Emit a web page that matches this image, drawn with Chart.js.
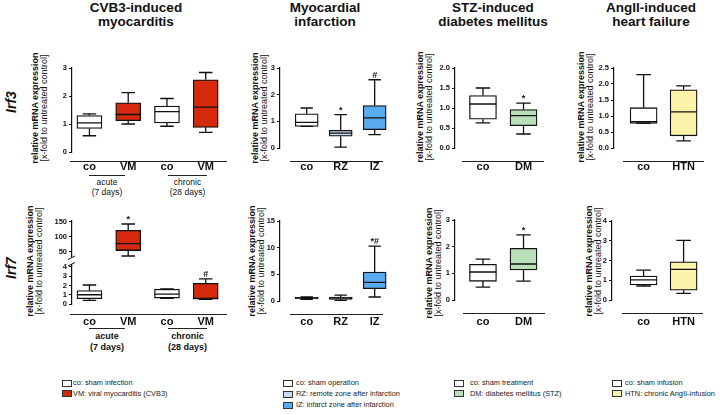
<!DOCTYPE html>
<html><head><meta charset="utf-8">
<script src="https://cdn.jsdelivr.net/npm/chart.js@4.4.1/dist/chart.umd.min.js"></script>
<style>
html,body{margin:0;padding:0;background:#fff;}
body{width:720px;height:415px;position:relative;overflow:hidden;font-family:"Liberation Sans",Arial,sans-serif;color:#111;}
.title{position:absolute;top:1px;font-weight:bold;font-size:13.5px;line-height:14px;text-align:center;white-space:nowrap;transform:translateX(-50%);}
.ylab{position:absolute;font-size:9px;line-height:8.5px;white-space:nowrap;text-align:center;transform:translate(-50%,-50%) rotate(-90deg);}
.ylab b{display:block;font-weight:bold;}
.ylab span{display:block;}
.gene{position:absolute;font-size:14px;font-weight:bold;font-style:italic;white-space:nowrap;transform:translate(-50%,-50%) rotate(-90deg);}
.grp{position:absolute;text-align:center;white-space:nowrap;transform:translateX(-50%);}
.gline{position:absolute;height:0;border-top:1px solid #222;}
.sw{position:absolute;width:8px;height:5px;border:1px solid #333;}
.lt{position:absolute;font-size:7.4px;line-height:10px;white-space:nowrap;color:#222;}
canvas{position:absolute;}
</style></head>
<body>
<div class="title" style="left:136px">CVB3-induced<br>myocarditis</div>
<div class="title" style="left:325px">Myocardial<br>infarction</div>
<div class="title" style="left:493px">STZ-induced<br>diabetes mellitus</div>
<div class="title" style="left:651px">AngII-induced<br>heart failure</div>

<div class="gene" style="left:11px;top:102px">Irf3</div>
<div class="gene" style="left:11px;top:268px">Irf7</div>

<div class="ylab" style="left:39px;top:108px"><b>relative mRNA expression</b><span>[x-fold to untreated control]</span></div>
<div class="ylab" style="left:259px;top:108px"><b>relative mRNA expression</b><span>[x-fold to untreated control]</span></div>
<div class="ylab" style="left:424px;top:107px"><b>relative mRNA expression</b><span>[x-fold to untreated control]</span></div>
<div class="ylab" style="left:585px;top:107px"><b>relative mRNA expression</b><span>[x-fold to untreated control]</span></div>
<div class="ylab" style="left:33.5px;top:261px"><b>relative mRNA expression</b><span>[x-fold to untreated control]</span></div>
<div class="ylab" style="left:255.5px;top:261px"><b>relative mRNA expression</b><span>[x-fold to untreated control]</span></div>
<div class="ylab" style="left:433px;top:263px"><b>relative mRNA expression</b><span>[x-fold to untreated control]</span></div>
<div class="ylab" style="left:593px;top:261px"><b>relative mRNA expression</b><span>[x-fold to untreated control]</span></div>

<div class="gline" style="left:89px;width:36px;top:175px"></div>
<div class="gline" style="left:168px;width:39px;top:175px"></div>
<div class="grp" style="left:107px;top:177px;font-size:8.5px;line-height:10px">acute<br>(7 days)</div>
<div class="grp" style="left:187.5px;top:177px;font-size:8.5px;line-height:10px">chronic<br>(28 days)</div>

<div class="gline" style="left:89px;width:36px;top:328px"></div>
<div class="gline" style="left:168px;width:39px;top:328px"></div>
<div class="grp" style="left:107px;top:331px;font-size:9px;line-height:10.5px;font-weight:bold">acute<br>(7 days)</div>
<div class="grp" style="left:187.5px;top:331px;font-size:9px;line-height:10.5px;font-weight:bold">chronic<br>(28 days)</div>

<script>
// ---------- data ----------
const cvbGroups = ['co', 'VM', 'co', 'VM'];
const miGroups = ['co', 'RZ', 'IZ'];
const stzGroups = ['co', 'DM'];
const angGroups = ['co', 'HTN'];

// five-number summaries per group: [min, Q1, median, Q3, max]
const irf3CVB3 = [[0.58, 0.84, 1.04, 1.30, 1.36], [1.00, 1.12, 1.34, 1.76, 2.12], [0.92, 1.04, 1.44, 1.64, 1.91], [0.70, 0.88, 1.60, 2.58, 2.84]];
const irf3MI = [[0.81, 0.81, 0.96, 1.28, 1.50], [0.03, 0.44, 0.56, 0.66, 1.25], [0.50, 0.69, 1.13, 1.59, 2.56]];
const irf3STZ = [[0.63, 0.72, 1.10, 1.31, 1.50], [0.35, 0.56, 0.81, 0.96, 1.12]];
const irf3ANG = [[0.77, 0.77, 0.82, 1.26, 2.29], [0.22, 0.38, 1.13, 1.82, 1.94]];
const irf7CVB3 = [[0.39, 0.57, 1.00, 1.45, 2.05], [36, 54, 77, 121, 142], [0.60, 0.64, 1.06, 1.60, 1.63], [0.50, 0.53, 0.60, 2.23, 2.72]];
const irf7MI = [[0.31, 0.38, 0.56, 0.69, 0.75], [0.12, 0.31, 0.56, 0.75, 1.12], [0.75, 2.31, 3.50, 5.44, 10.3]];
const irf7STZ = [[0.48, 0.70, 1.05, 1.34, 1.53], [0.71, 1.13, 1.35, 1.94, 2.44]];
const irf7ANG = [[0.71, 0.76, 1.02, 1.21, 1.51], [0.34, 0.50, 1.55, 1.93, 3.02]];
// which part of the broken axis each Irf7 CVB3 group uses
const irf7CVB3Axis = ['low', 'up', 'low', 'low'];

// significance marks
const irf3CVB3Sig = ['', '', '', ''];
const irf3MISig = ['', '*', '#'];
const irf3STZSig = ['', '*'];
const irf3ANGSig = ['', ''];
const irf7CVB3Sig = ['', '*', '', '#'];
const irf7MISig = ['', '', '*#'];
const irf7STZSig = ['', '*'];
const irf7ANGSig = ['', ''];

// tick labels
const ticks0to3 = [0, 1, 2, 3];
const irf3STZTicks = [0, 0.5, 1, 1.5, 2];
const irf3ANGTicks = [0, 0.5, 1, 1.5, 2, 2.5];
const irf7CVB3LowTicks = [0, 1, 2, 3, 4];
const irf7CVB3UpTicks = [50, 100, 150];
const irf7MITicks = [0, 5, 10, 15];
const irf7STZTicks = [0, 1, 2, 3];
const irf7ANGTicks = [0, 1, 2, 3, 4];

// legends
const legendCVB3 = ['co: sham infection', 'VM: viral myocarditis (CVB3)'];
const legendMI = ['co: sham operation', 'RZ: remote zone after infarction', 'IZ: infarct zone after infarction'];
const legendSTZ = ['co: sham treatment', 'DM: diabetes mellitus (STZ)'];
const legendANG = ['co: sham infusion', 'HTN: chronic AngII-infusion'];

// ---------- style ----------
const WHITE = '#ffffff', RED = '#d4290d', LBLUE = '#c9d8ea', BLUE = '#5aaaf0', GREEN = '#b8dfb8', YELLOW = '#fbf4a8';
const cvbColors = [WHITE, RED, WHITE, RED];
const miColors = [WHITE, LBLUE, BLUE];
const stzColors = [WHITE, GREEN];
const angColors = [WHITE, YELLOW];
const FONT = "'Liberation Sans', Arial, sans-serif";

// legends (HTML)
function legend(items, colors, sx, tx, y0, dy) {
  items.forEach((t, i) => {
    const cy = y0 + i * dy;
    const s = document.createElement('div');
    s.className = 'sw'; s.style.left = sx + 'px'; s.style.top = (cy - 3.5) + 'px'; s.style.background = colors[i];
    document.body.appendChild(s);
    const d = document.createElement('div');
    d.className = 'lt'; d.style.left = tx + 'px'; d.style.top = (cy - 5) + 'px'; d.textContent = t;
    document.body.appendChild(d);
  });
}
legend(legendCVB3, [WHITE, RED], 62, 73, 383, 10.5);
legend(legendMI, miColors, 283, 296, 383, 11);
legend(legendSTZ, stzColors, 454, 470, 383, 10.8);
legend(legendANG, angColors, 612, 625, 383, 10.8);

// ---------- box plot plugin ----------
const boxPlugin = {
  id: 'boxWhisker',
  afterDatasetsDraw(chart, args, o) {
    const ctx = chart.ctx, ca = chart.chartArea;
    ctx.save();
    chart.data.datasets.forEach((ds, di) => {
      const meta = chart.getDatasetMeta(di);
      const ys = chart.scales[meta.yAxisID];
      meta.data.forEach((el, j) => {
        if (ds.data[j].y == null) return;
        const s = ds.stats[j];
        const x = el.x, w = el.width, c = w * 0.27;
        const p = s.map(v => ys.getPixelForValue(v));
        ctx.strokeStyle = '#111'; ctx.lineWidth = 1.3;
        ctx.beginPath();
        ctx.moveTo(x, p[3]); ctx.lineTo(x, p[4]);
        ctx.moveTo(x - c, p[4]); ctx.lineTo(x + c, p[4]);
        ctx.moveTo(x, p[1]); ctx.lineTo(x, p[0]);
        ctx.moveTo(x - c, p[0]); ctx.lineTo(x + c, p[0]);
        ctx.moveTo(x - w / 2, p[2]); ctx.lineTo(x + w / 2, p[2]);
        ctx.stroke();
        if (ds.sig && ds.sig[j]) {
          ctx.fillStyle = '#111';
          ctx.font = 'bold 9px ' + FONT;
          ctx.textAlign = 'center'; ctx.textBaseline = 'alphabetic';
          ctx.fillText(ds.sig[j], x, p[4] - 2);
        }
      });
    });
    // detached x axis line
    const yy = Math.round(ca.bottom + o.gap) + 0.5;
    ctx.lineWidth = 1; ctx.strokeStyle = '#222';
    ctx.beginPath(); ctx.moveTo(ca.left + o.from, yy); ctx.lineTo(ca.right + o.to, yy); ctx.stroke();
    // axis break
    if (o.brk) {
      const b = chart.scales.yUp.bottom;
      ctx.fillStyle = '#fff';
      ctx.fillRect(ca.left - 2, b - 1.5, 4, 6.5);
      ctx.strokeStyle = '#111'; ctx.lineWidth = 1;
      ctx.beginPath();
      ctx.moveTo(ca.left - 4, b + 0.5); ctx.lineTo(ca.left + 3, b - 3);
      ctx.moveTo(ca.left - 4, b + 7); ctx.lineTo(ca.left + 3, b + 3.5);
      ctx.stroke();
    }
    ctx.restore();
  }
};

function yAxis(min, max, ticks, dec, extra) {
  return Object.assign({
    type: 'linear', position: 'left', min: min, max: max, bounds: 'data', offset: false,
    afterBuildTicks: s => { s.ticks = ticks.map(v => ({ value: v })); },
    afterFit: s => { s.width = 30; },
    ticks: { font: { family: FONT, size: 7.5, weight: 'bold' }, color: '#111', padding: 2, autoSkip: false,
      callback: v => dec ? Number(v).toFixed(1) : String(v) },
    grid: { display: true, drawOnChartArea: false, drawTicks: true, tickLength: 3, color: '#111', lineWidth: 1, offset: false },
    border: { display: true, color: '#111', width: 1.2 }
  }, extra || {});
}

function panel(cfg) {
  const YW = 30, PT = 16, XH = 30, PR = 10;
  const W = YW + cfg.R - cfg.L + PR, H = PT + cfg.B - cfg.T + XH;
  const cv = document.createElement('canvas');
  cv.width = W; cv.height = H;
  cv.style.left = (cfg.L - YW) + 'px'; cv.style.top = (cfg.T - PT) + 'px';
  cv.style.width = W + 'px'; cv.style.height = H + 'px';
  document.body.appendChild(cv);
  const scales = {
    x: {
      type: 'linear', min: cfg.xMin, max: cfg.xMax, bounds: 'data', offset: false,
      afterBuildTicks: s => { s.ticks = cfg.cats.map((c, i) => ({ value: i })); },
      afterFit: s => { s.height = XH; },
      ticks: { callback: v => cfg.cats[v], font: { family: FONT, size: 11, weight: 'bold' }, color: '#111',
        padding: cfg.lp, autoSkip: false, maxRotation: 0 },
      grid: { display: false, drawTicks: false, offset: false }, border: { display: false }
    }
  };
  Object.assign(scales, cfg.y);
  const datasets = cfg.sets.map(st => ({
    type: 'bar',
    yAxisID: st.axis,
    data: cfg.stats.map((s, i) => ({ x: i, y: st.use[i] ? [s[1], s[3]] : null })),
    stats: cfg.stats, sig: cfg.sig,
    backgroundColor: cfg.colors, borderColor: '#111', borderWidth: 1.3, borderSkipped: false,
    barThickness: cfg.bw, skipNull: true
  }));
  new Chart(cv, {
    type: 'bar',
    data: { datasets },
    options: {
      responsive: false, animation: false, devicePixelRatio: 1,
      layout: { padding: { top: PT, right: PR, left: 0, bottom: 0 } },
      plugins: { legend: { display: false }, tooltip: { enabled: false },
        boxWhisker: { gap: cfg.gap, from: cfg.from, to: cfg.to, brk: !!cfg.brk } },
      scales
    },
    plugins: [boxPlugin]
  });
}

const all = a => a.map(() => true);

// ---------- Irf3 row ----------
panel({ L: 72, R: 222, T: 68, B: 152, xMin: -0.45, xMax: 3.42, cats: cvbGroups, stats: irf3CVB3, sig: irf3CVB3Sig,
  colors: cvbColors, bw: 25, gap: 9, from: -2, to: 5, lp: 8.4,
  sets: [{ axis: 'y', use: all(irf3CVB3) }], y: { y: yAxis(0, 3, ticks0to3, false) } });
panel({ L: 280, R: 392, T: 68, B: 148, xMin: -0.785, xMax: 2.51, cats: miGroups, stats: irf3MI, sig: irf3MISig,
  colors: miColors, bw: 23, gap: 13, from: 10, to: -9, lp: 12.4,
  sets: [{ axis: 'y', use: all(irf3MI) }], y: { y: yAxis(0, 3, ticks0to3, false) } });
panel({ L: 455, R: 545, T: 68, B: 148, xMin: -0.69, xMax: 1.53, cats: stzGroups, stats: irf3STZ, sig: irf3STZSig,
  colors: stzColors, bw: 27, gap: 13, from: 7, to: -1, lp: 12.4,
  sets: [{ axis: 'y', use: all(irf3STZ) }], y: { y: yAxis(0, 2, irf3STZTicks, true) } });
panel({ L: 614, R: 706, T: 68, B: 148, xMin: -0.74, xMax: 1.56, cats: angGroups, stats: irf3ANG, sig: irf3ANGSig,
  colors: angColors, bw: 27, gap: 13, from: 9, to: -2, lp: 12.4,
  sets: [{ axis: 'y', use: all(irf3ANG) }], y: { y: yAxis(0, 2.5, irf3ANGTicks, true) } });

// ---------- Irf7 row ----------
panel({ L: 72, R: 222, T: 221, B: 304, xMin: -0.45, xMax: 3.42, cats: cvbGroups, stats: irf7CVB3, sig: irf7CVB3Sig,
  colors: cvbColors, bw: 25, gap: 10, from: -2, to: 5, lp: 11.4, brk: true,
  sets: [{ axis: 'yLow', use: irf7CVB3Axis.map(a => a === 'low') }, { axis: 'yUp', use: irf7CVB3Axis.map(a => a === 'up') }],
  y: {
    yLow: yAxis(0, 4.86, irf7CVB3LowTicks, false, { stack: 'brk', stackWeight: 45, weight: 0 }),
    yUp: yAxis(26, 152, irf7CVB3UpTicks, false, { stack: 'brk', stackWeight: 38, weight: 1 })
  } });
panel({ L: 280, R: 392, T: 221, B: 301, xMin: -0.785, xMax: 2.51, cats: miGroups, stats: irf7MI, sig: irf7MISig,
  colors: miColors, bw: 23, gap: 13, from: 10, to: -9, lp: 14.4,
  sets: [{ axis: 'y', use: all(irf7MI) }], y: { y: yAxis(0, 15, irf7MITicks, false) } });
panel({ L: 455, R: 545, T: 220, B: 300, xMin: -0.69, xMax: 1.53, cats: stzGroups, stats: irf7STZ, sig: irf7STZSig,
  colors: stzColors, bw: 27, gap: 13, from: 8, to: 0, lp: 15.4,
  sets: [{ axis: 'y', use: all(irf7STZ) }], y: { y: yAxis(0, 3, irf7STZTicks, false) } });
panel({ L: 612, R: 706, T: 221, B: 300, xMin: -0.79, xMax: 1.56, cats: angGroups, stats: irf7ANG, sig: irf7ANGSig,
  colors: angColors, bw: 27, gap: 13, from: 10, to: -3, lp: 15.4,
  sets: [{ axis: 'y', use: all(irf7ANG) }], y: { y: yAxis(0, 4, irf7ANGTicks, false) } });
</script>
</body></html>
